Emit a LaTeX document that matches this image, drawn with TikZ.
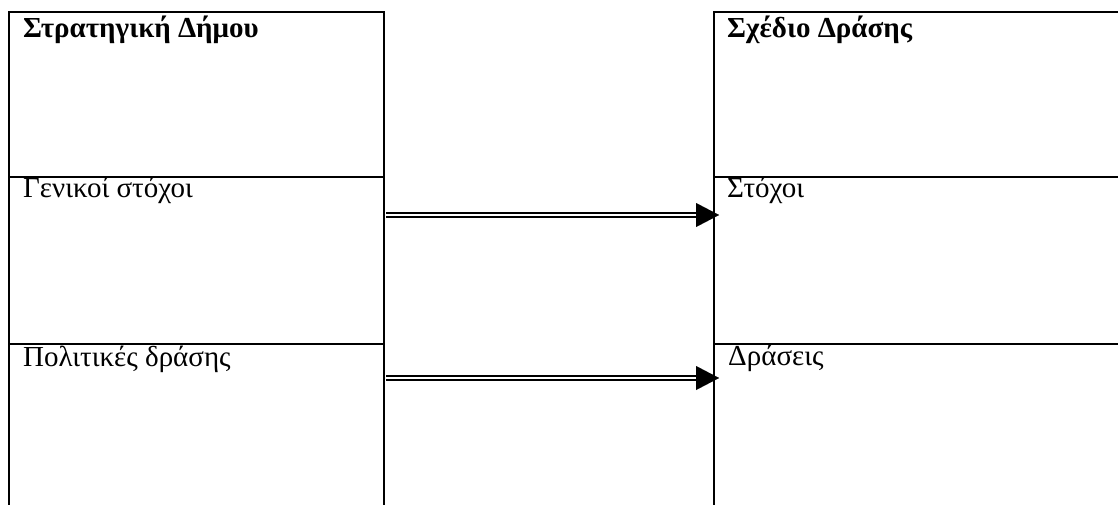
\documentclass[tikz,border=0pt]{standalone}
\usepackage{fontspec}
\setmainfont{Liberation Serif}
\usetikzlibrary{arrows.meta,calc}
\begin{document}
\begin{tikzpicture}[x=1pt,y=-1pt,
  cell/.style={draw=black,line width=2pt,rectangle,inner sep=0pt,anchor=north west},
  lbl/.style={anchor=base west,inner sep=0pt,font=\fontsize{29}{33}\selectfont},
  ttl/.style={lbl,font=\fontsize{29}{33}\selectfont\bfseries},
  dbl/.style={draw=black,line width=1.9pt,double=white,double distance=1.8pt},
  tip/.style={white,line width=0.01pt,-{Triangle[length=23pt,width=24pt,black]}}]
\clip (0,0) rectangle (1118,504);
\fill[white] (0,0) rectangle (1118,504);
% left column
\node[cell,minimum width=375pt,minimum height=165pt] (l1) at (8,11) {};
\node[cell,minimum width=375pt,minimum height=167pt] (l2) at (8,176) {};
\node[cell,minimum width=375pt,minimum height=180pt] (l3) at (8,343) {};
% right column
\node[cell,minimum width=430pt,minimum height=165pt] (r1) at (713,11) {};
\node[cell,minimum width=430pt,minimum height=167pt] (r2) at (713,176) {};
\node[cell,minimum width=430pt,minimum height=180pt] (r3) at (713,343) {};
% texts
\node[ttl] (t1) at ($(l1.north west)+(15,26)$) {Στρατηγική Δήμου};
\node[lbl] (t2) at ($(l2.north west)+(15,21)$) {Γενικοί στόχοι};
\node[lbl] (t3) at ($(l3.north west)+(15,23)$) {Πολιτικές δράσης};
\node[ttl] (t4) at ($(r1.north west)+(14,26)$) {Σχέδιο Δράσης};
\node[lbl] (t5) at ($(r2.north west)+(14,21)$) {Στόχοι};
\node[lbl] (t6) at ($(r3.north west)+(15,22)$) {Δράσεις};
% arrows
\coordinate (a1s) at ($(l2.north east)+(1,39)$);
\coordinate (a1e) at ($(r2.north west)+(6,39)$);
\coordinate (a2s) at ($(l3.north east)+(1,35)$);
\coordinate (a2e) at ($(r3.north west)+(6,35)$);
\draw[dbl] (a1s) -- ($(a1e)+(-20,0)$);
\draw[tip] (a1s) -- (a1e);
\draw[dbl] (a2s) -- ($(a2e)+(-20,0)$);
\draw[tip] (a2s) -- (a2e);
\end{tikzpicture}
\end{document}
